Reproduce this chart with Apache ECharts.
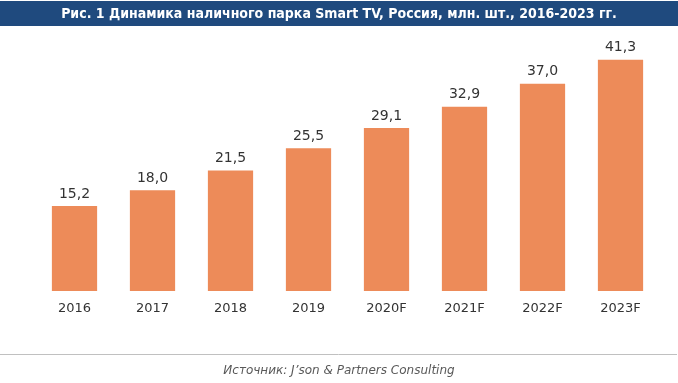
<!DOCTYPE html>
<html><head><meta charset="utf-8">
<script src="https://cdn.jsdelivr.net/npm/echarts@6/dist/echarts.min.js"></script>
<style>html,body{margin:0;padding:0;background:#fff}#c{width:678px;height:383px}</style>
</head><body><div id="c"></div>
<script>
const categories = ['2016','2017','2018','2019','2020F','2021F','2022F','2023F'];
const values = [15.2, 18.0, 21.5, 25.5, 29.1, 32.9, 37.0, 41.3];
const titleText = 'Рис. 1 Динамика наличного парка Smart TV, Россия, млн. шт., 2016-2023 гг.';
const sourceText = 'Источник: J’son & Partners Consulting';

const chart = echarts.init(document.getElementById('c'), null, {renderer:'canvas'});
chart.setOption({
  animation: false,
  graphic: [
    {type:'rect', left:0, top:1, shape:{width:678, height:25}, style:{fill:'#1F4A7E'}},
    {type:'text', left:'center', top:7, style:{text:titleText, fill:'#fff', font:'bold 14px "DejaVu Sans Condensed", sans-serif'}},
    {type:'line', shape:{x1:0, y1:354.5, x2:677, y2:354.5}, style:{stroke:'#c0c0c0', lineWidth:1}},
    {type:'text', left:'center', top:365, style:{text:sourceText, fill:'#595959', font:'italic 12px "DejaVu Sans", sans-serif'}}
  ],
  grid: {left:35.5, right:18.5, top:39, bottom:92, containLabel:false},
  xAxis: {
    type:'category', data:categories,
    axisLine:{show:false}, axisTick:{show:false},
    axisLabel:{color:'#333', fontSize:13, fontFamily:'"DejaVu Sans", sans-serif', margin:11}
  },
  yAxis: {type:'value', min:0, max:45, show:false, splitLine:{show:false}},
  series: [{
    type:'bar', data:values, barWidth:'58%',
    itemStyle:{color:'#ED8B59'},
    label:{show:true, position:'top', distance:5, color:'#333', fontSize:14, fontFamily:'"DejaVu Sans", sans-serif',
      formatter: p => p.value.toFixed(1).replace('.', ',')}
  }]
});
</script></body></html>
